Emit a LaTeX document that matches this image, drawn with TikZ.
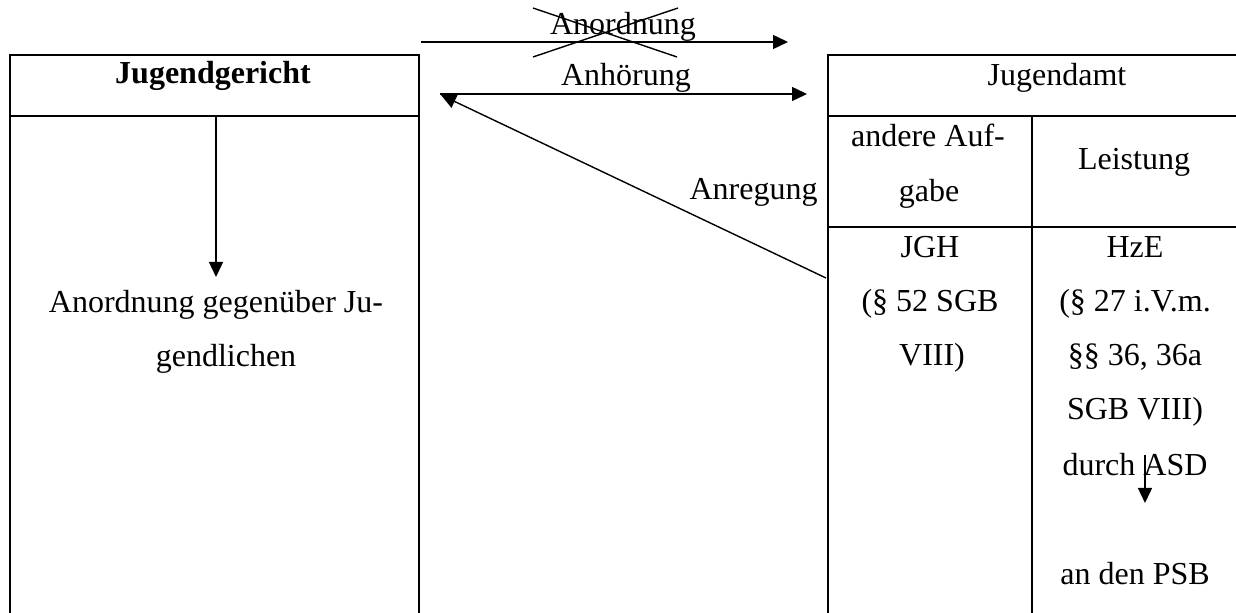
\documentclass[tikz,border=0pt]{standalone}
\usepackage{fontspec}
\setmainfont{Liberation Serif}
\usetikzlibrary{arrows.meta}
\begin{document}
\begin{tikzpicture}[x=0.5pt,y=-0.5pt,
  border/.style={line width=1pt},
  conn/.style={line width=0.7pt,-{Triangle[length=7.5pt,width=7pt]}},
  txt/.style={anchor=base,inner sep=0pt,font=\fontsize{16}{19}\selectfont},
  btxt/.style={txt,font=\fontsize{16}{19}\selectfont\bfseries}]
\useasboundingbox (0,0) rectangle (1236,613);
% boxes
\draw[border] (10,613) -- (10,55) -- (419,55) -- (419,613);
\draw[border] (10,116) -- (419,116);
\draw[border] (828,613) -- (828,55) -- (1236,55);
\draw[border] (828,116) -- (1236,116);
\draw[border] (1032,116) -- (1032,613);
\draw[border] (828,227) -- (1236,227);
% texts
\node[btxt] (jg) at (213,84) {Jugendgericht};
\node[txt] (ja) at (1057,86) {Jugendamt};
\node[txt] (ang1) at (216,313) {Anordnung gegenüber Ju-};
\node[txt] (ang2) at (226,367) {gendlichen};
\node[txt] (aa1) at (928,147) {andere Auf-};
\node[txt] (aa2) at (929,202) {gabe};
\node[txt] (lei) at (1134,170) {Leistung};
\node[txt] (jgh1) at (930,258) {JGH};
\node[txt] (jgh2) at (930,312) {(§ 52 SGB};
\node[txt] (jgh3) at (932,366) {VIII)};
\node[txt] (hz1) at (1135,258) {HzE};
\node[txt] (hz2) at (1135,312) {(§ 27 i.V.m.};
\node[txt] (hz3) at (1135,366) {§§ 36, 36a};
\node[txt] (hz4) at (1135,420) {SGB VIII)};
\node[txt] (hz5) at (1135,476) {durch ASD};
\node[txt] (psb) at (1135,585) {an den PSB};
\node[txt] (lanord) at (623,35) {Anordnung};
\node[txt] (lanh) at (626,86) {Anhörung};
\node[txt,anchor=base east] (lanr) at (818,200) {Anregung};
% coordinates
\coordinate (a1s) at (421,42);
\coordinate (a1e) at (788,42);
\coordinate (a2s) at (440,94);
\coordinate (a2e) at (807,94);
\coordinate (a3s) at (826,278);
\coordinate (a3e) at (441,95);
\coordinate (a4s) at (216,117);
\coordinate (a4e) at (216,277);
\coordinate (a5s) at (1145,455);
\coordinate (a5e) at (1145,503);
\coordinate (x1a) at (533,8);
\coordinate (x1b) at (677,57);
\coordinate (x2a) at (533,57);
\coordinate (x2b) at (678,8);
% connectors
\draw[conn] (a1s) -- (a1e);
\draw[line width=0.7pt] (x1a) -- (x1b);
\draw[line width=0.7pt] (x2a) -- (x2b);
\draw[conn] (a2s) -- (a2e);
\draw[conn] (a3s) -- (a3e);
\draw[conn] (a4s) -- (a4e);
\draw[conn] (a5s) -- (a5e);
\end{tikzpicture}
\end{document}
